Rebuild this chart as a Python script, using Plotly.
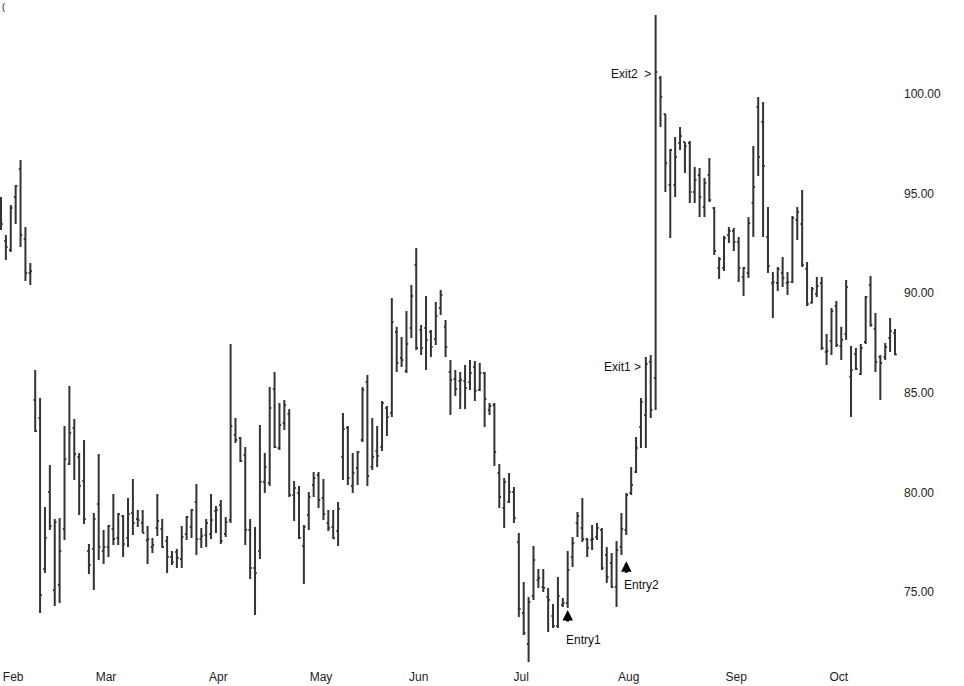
import plotly.graph_objects as go

opens = [
    94.18, 92.62, 92.17, 94.83, 96.24, 92.72, 91.02, 84.64, 83.74, 76.16,
    80.02, 75.10, 75.35, 78.16, 81.43, 83.23, 81.78, 80.57, 77.06, 77.16,
    79.42, 77.06, 77.26, 78.16, 77.71, 78.82, 77.71, 78.97, 78.67, 78.47,
    77.60, 77.26, 78.21, 78.16, 77.56, 76.76, 77.01, 76.66, 77.91, 78.26,
    79.52, 77.66, 77.86, 77.91, 79.07, 79.37, 77.91, 78.62, 82.88, 82.73,
    81.88, 78.11, 76.21, 77.06, 80.52, 80.47, 85.19, 82.23, 83.49, 83.94,
    79.87, 79.97, 77.31, 78.87, 80.37, 80.88, 79.72, 78.47, 78.26, 78.06,
    81.78, 83.23, 80.32, 81.23, 82.63, 85.54, 81.28, 82.08, 82.28, 84.24,
    83.99, 88.05, 86.75, 86.10, 88.25, 91.42, 88.15, 88.25, 88.05, 87.70,
    89.26, 88.31, 86.05, 85.69, 85.59, 85.59, 85.54, 86.30, 85.14, 86.00,
    84.14, 84.39, 80.98, 79.22, 79.52, 80.02, 77.51, 73.95, 72.39, 74.80,
    75.60, 75.25, 74.75, 73.80, 73.30, 74.35, 74.45, 76.76, 78.47, 78.21,
    77.66, 77.61, 77.76, 78.11, 76.86, 76.46, 75.25, 77.26, 78.11, 79.97,
    81.03, 83.28, 83.89, 86.55, 85.74, 100.80, 99.00, 95.43, 95.43, 97.54,
    97.59, 97.54, 95.08, 95.94, 94.33, 95.94, 94.28, 91.27, 91.27, 92.92,
    93.12, 92.57, 90.81, 91.02, 94.53, 99.35, 98.60, 92.82, 90.50, 90.51,
    91.02, 90.51, 90.56, 93.68, 93.48, 91.22, 89.52, 89.96, 90.51, 87.05,
    87.60, 89.36, 87.35, 87.95, 85.80, 86.95, 85.95, 87.55, 90.41, 88.20,
    86.80, 86.80, 87.75, 88.00,
]
highs = [
    94.83, 92.92, 94.43, 95.43, 96.69, 93.32, 91.52, 86.15, 84.74, 79.27,
    81.38, 78.67, 78.72, 83.33, 85.34, 83.69, 81.98, 82.63, 77.41, 78.97,
    81.93, 78.11, 78.37, 79.92, 78.97, 78.87, 79.72, 80.67, 79.12, 79.12,
    78.32, 77.71, 79.92, 78.67, 77.81, 77.06, 77.16, 78.32, 78.82, 79.17,
    80.42, 78.21, 78.67, 79.92, 79.32, 79.62, 78.77, 87.45, 83.74, 82.78,
    82.28, 78.67, 78.26, 83.39, 81.98, 85.29, 86.05, 84.49, 84.64, 84.19,
    80.57, 80.32, 78.37, 80.02, 81.03, 81.03, 80.67, 79.12, 79.12, 79.52,
    83.99, 83.33, 81.98, 82.08, 85.29, 85.90, 83.74, 83.33, 84.59, 84.34,
    89.76, 88.31, 87.80, 89.11, 90.41, 92.27, 88.41, 89.86, 88.15, 89.56,
    90.16, 88.66, 86.65, 86.15, 86.05, 86.40, 86.65, 86.60, 86.50, 86.05,
    84.49, 84.49, 81.43, 80.72, 80.98, 80.27, 77.96, 75.50, 74.75, 77.31,
    76.16, 76.16, 75.20, 74.40, 75.75, 74.70, 77.06, 77.76, 79.02, 79.72,
    77.71, 78.37, 78.47, 78.21, 77.26, 76.96, 77.56, 78.97, 79.97, 81.28,
    82.78, 84.74, 86.80, 86.90, 103.97, 100.91, 99.00, 97.24, 97.84, 98.34,
    97.59, 97.64, 96.34, 96.29, 95.78, 96.79, 94.33, 91.82, 92.87, 93.32,
    93.27, 92.82, 91.32, 93.83, 97.39, 99.85, 99.60, 94.33, 91.07, 91.32,
    91.82, 91.07, 93.88, 94.33, 95.18, 91.57, 90.31, 90.81, 90.81, 87.95,
    89.26, 89.61, 88.31, 90.66, 87.35, 87.25, 87.45, 89.86, 90.86, 89.01,
    86.90, 87.50, 88.76, 88.20,
]
lows = [
    93.17, 91.67, 92.07, 93.48, 92.32, 90.61, 90.41, 83.03, 73.95, 75.96,
    78.11, 74.30, 74.45, 77.61, 81.38, 80.62, 78.87, 78.42, 75.91, 75.10,
    76.61, 76.41, 76.76, 77.36, 77.36, 76.76, 77.26, 77.86, 78.26, 77.96,
    76.41, 76.96, 77.81, 77.21, 75.96, 76.36, 76.21, 76.21, 77.61, 77.71,
    76.86, 77.21, 77.26, 77.66, 77.96, 77.41, 77.76, 78.47, 82.48, 81.53,
    77.36, 75.65, 73.85, 76.66, 79.97, 80.32, 82.23, 82.13, 83.13, 79.77,
    78.57, 77.66, 75.40, 78.11, 79.77, 79.22, 78.62, 78.06, 77.66, 77.31,
    80.62, 80.37, 79.97, 80.37, 82.53, 80.32, 81.13, 81.28, 82.08, 82.83,
    83.79, 86.05, 86.30, 86.00, 87.75, 87.15, 86.90, 86.15, 86.80, 87.40,
    88.91, 86.80, 83.89, 84.84, 84.19, 84.19, 85.14, 84.59, 85.09, 83.28,
    83.89, 81.33, 79.22, 78.21, 79.47, 78.47, 73.75, 72.84, 71.49, 74.60,
    75.20, 75.00, 72.99, 73.19, 73.19, 74.25, 74.20, 76.26, 77.76, 77.51,
    76.76, 77.11, 77.61, 76.11, 75.45, 75.20, 74.25, 76.86, 77.86, 79.87,
    80.98, 82.23, 82.23, 83.74, 84.14, 98.34, 95.08, 92.77, 94.83, 97.19,
    96.04, 94.53, 94.53, 93.83, 93.83, 94.58, 91.92, 90.71, 91.12, 92.52,
    92.12, 90.56, 89.86, 90.76, 92.82, 95.89, 92.82, 91.02, 88.76, 90.11,
    90.31, 89.91, 90.51, 92.67, 91.32, 89.36, 89.48, 89.81, 87.15, 86.40,
    86.90, 87.30, 86.65, 87.65, 83.79, 86.15, 85.90, 87.45, 88.31, 86.05,
    84.64, 86.65, 87.05, 86.90,
]
closes = [
    93.48, 92.32, 94.28, 95.38, 92.92, 91.02, 91.10, 83.08, 74.85, 77.71,
    78.32, 78.52, 77.06, 81.68, 82.98, 81.93, 80.32, 78.67, 76.36, 78.67,
    77.26, 77.26, 78.32, 77.66, 78.92, 77.41, 78.92, 78.47, 78.62, 77.96,
    77.65, 77.36, 78.57, 77.26, 76.76, 76.51, 76.71, 77.76, 78.77, 79.12,
    77.66, 77.81, 78.47, 78.62, 79.12, 77.56, 78.52, 83.33, 82.63, 81.58,
    78.11, 76.21, 75.96, 80.52, 81.28, 84.24, 82.28, 83.39, 84.39, 79.87,
    80.22, 77.71, 78.26, 79.77, 80.72, 79.62, 78.92, 78.21, 77.70, 79.17,
    83.18, 80.72, 80.98, 82.03, 85.14, 80.83, 81.78, 81.83, 84.49, 83.79,
    88.56, 86.50, 86.65, 87.45, 89.86, 87.25, 87.25, 87.65, 87.30, 88.86,
    89.91, 87.30, 85.64, 85.19, 85.64, 85.24, 86.00, 85.09, 86.00, 84.69,
    84.34, 82.03, 79.77, 80.52, 80.02, 78.72, 74.15, 72.94, 74.50, 76.61,
    75.70, 75.20, 74.60, 73.30, 74.80, 74.45, 76.11, 77.46, 78.82, 77.66,
    77.21, 77.66, 78.21, 76.21, 75.75, 75.25, 77.11, 78.16, 79.87, 80.37,
    82.23, 84.54, 86.45, 84.14, 101.11, 99.85, 96.54, 97.19, 96.84, 97.89,
    97.39, 95.08, 95.68, 94.83, 95.53, 94.68, 92.12, 91.72, 92.77, 93.12,
    92.57, 91.27, 91.27, 93.53, 95.33, 96.84, 96.39, 91.37, 90.55, 91.22,
    90.76, 90.56, 93.78, 94.08, 91.42, 89.46, 90.21, 90.36, 87.25, 87.10,
    89.11, 87.40, 87.65, 90.31, 86.15, 86.20, 87.25, 89.81, 88.41, 86.55,
    86.50, 87.30, 88.10, 86.92,
]
bar_index = list(range(len(closes)))

month_labels = ["Feb", "Mar", "Apr", "May", "Jun", "Jul", "Aug", "Sep", "Oct"]
month_first_bar = [3, 22, 45, 66, 86, 107, 129, 151, 172]

entry_labels = ["Entry1", "Entry2"]
entry_idx = [116, 128]
entry_price = [74.10, 76.55]
entry_text_drop = [21, 15]

exit_labels = ["Exit1", "Exit2"]
exit_idx = [132, 134]
exit_price = [86.30, 101.00]
exit_gap = ["\u00a0>", "\u00a0\u00a0>"]

FONT = "Liberation Sans, Arial, sans-serif"

fig = go.Figure(
    go.Ohlc(
        x=bar_index, open=opens, high=highs, low=lows, close=closes,
        increasing=dict(line=dict(color="#333333", width=2)),
        decreasing=dict(line=dict(color="#333333", width=2)),
        tickwidth=0.35, hoverinfo="skip", showlegend=False,
    )
)

ann = []
for lab, i, p, d in zip(entry_labels, entry_idx, entry_price, entry_text_drop):
    ann.append(dict(x=i, y=p, xref="x", yref="y", text="", showarrow=True,
                    ax=0, ay=13, arrowhead=2, arrowsize=0.7, arrowwidth=3,
                    arrowcolor="#000000", standoff=0, startstandoff=0))
    ann.append(dict(x=i, y=p, xref="x", yref="y", text=lab, showarrow=False,
                    xanchor="left", yanchor="top", xshift=-4, yshift=-d,
                    font=dict(family=FONT, size=12, color="#111111")))
for lab, i, p, g in zip(exit_labels, exit_idx, exit_price, exit_gap):
    ann.append(dict(x=i, y=p, xref="x", yref="y", text=lab + g, showarrow=False,
                    xanchor="right", yanchor="middle", xshift=-3,
                    font=dict(family=FONT, size=12, color="#111111")))
ann.append(dict(x=0, y=1, xref="paper", yref="paper", text="(", showarrow=False,
                xanchor="left", yanchor="top",
                font=dict(family=FONT, size=9, color="#000000")))

fig.update_layout(
    width=964, height=686,
    margin=dict(l=0, r=61, t=0, b=21, autoexpand=False),
    paper_bgcolor="white", plot_bgcolor="white",
    font=dict(family=FONT, size=12, color="#222222"),
    annotations=ann,
    xaxis=dict(
        range=[-0.205, 184.64], rangeslider=dict(visible=False),
        tickmode="array", tickvals=[m - 0.5 for m in month_first_bar],
        ticktext=month_labels, showgrid=False, zeroline=False,
        showline=False, ticks="", automargin=False, ticklabelstandoff=3,
        tickfont=dict(family=FONT, size=12, color="#222222"),
    ),
    yaxis=dict(
        range=[71.336, 104.719], side="right", dtick=5, tick0=0,
        tickformat=".2f", showgrid=False, zeroline=False, showline=False,
        ticks="", automargin=False,
        tickfont=dict(family=FONT, size=12, color="#222222"),
    ),
)

fig.write_html(
    "out.html",
    config={"displayModeBar": False},
    post_script="document.body.style.margin='0px';document.body.style.overflow='hidden';",
)
